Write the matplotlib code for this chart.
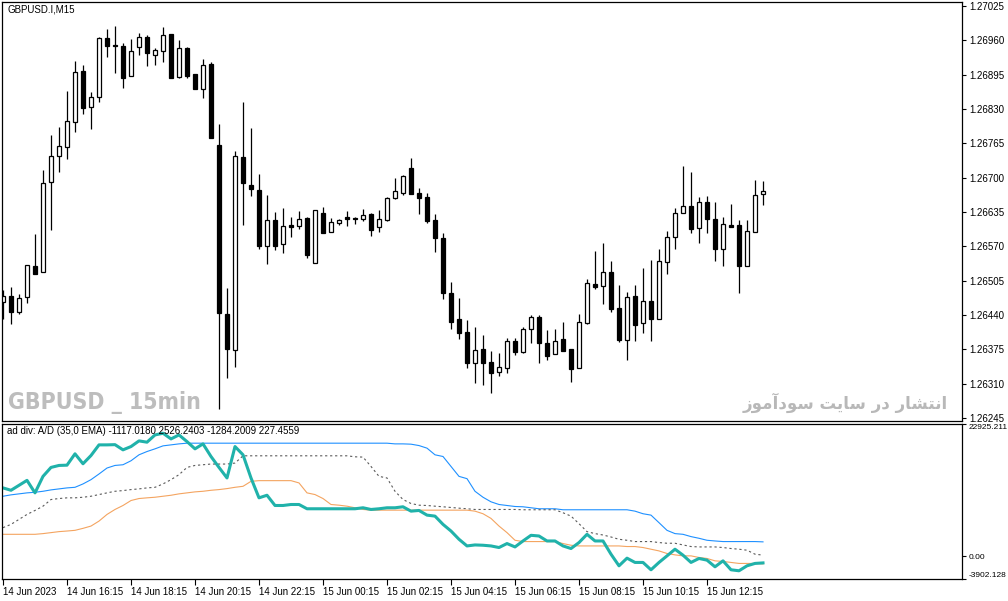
import matplotlib
matplotlib.use("Agg")
import matplotlib.pyplot as plt
from matplotlib import font_manager as fm
import numpy as np

plt.rcParams['font.family'] = ['Liberation Sans', 'DejaVu Sans']

# GBPUSD M15, 14 Jun 2023 14:15 .. 15 Jun 2023 14:00
opens = [1.26465, 1.26476, 1.26446, 1.26474, 1.26533, 1.26521, 1.26692, 1.26741, 1.26758, 1.26805,
         1.26902, 1.26834, 1.26853, 1.26964, 1.26951, 1.26949, 1.26893, 1.26947, 1.26966, 1.26932,
         1.26940, 1.26972, 1.26891, 1.26946, 1.26896, 1.26868, 1.26915, 1.26762, 1.26442, 1.26374,
         1.26739, 1.26686, 1.26677, 1.26571, 1.26620, 1.26575, 1.26610, 1.26609, 1.26624, 1.26539,
         1.26633, 1.26597, 1.26614, 1.26626, 1.26624, 1.26622, 1.26631, 1.26607, 1.26620, 1.26662,
         1.26671, 1.26718, 1.26671, 1.26663, 1.26620, 1.26586, 1.26482, 1.26433, 1.26408, 1.26349,
         1.26376, 1.26351, 1.26332, 1.26340, 1.26391, 1.26370, 1.26414, 1.26436, 1.26387, 1.26366,
         1.26395, 1.26376, 1.26340, 1.26425, 1.26499, 1.26495, 1.26521, 1.26453, 1.26393, 1.26476,
         1.26425, 1.26467, 1.26433, 1.26540, 1.26588, 1.26633, 1.26646, 1.26605, 1.26654, 1.26622,
         1.26565, 1.26610, 1.26610, 1.26533, 1.26597, 1.26669]
highs = [1.26487, 1.26493, 1.26480, 1.26535, 1.26593, 1.26715, 1.26781, 1.26796, 1.26864, 1.26921,
         1.26913, 1.26862, 1.26966, 1.26982, 1.26987, 1.26955, 1.26963, 1.26974, 1.26970, 1.26946,
         1.26985, 1.26972, 1.26961, 1.26947, 1.26896, 1.26925, 1.26919, 1.26802, 1.26491, 1.26751,
         1.26843, 1.26794, 1.26707, 1.26667, 1.26635, 1.26643, 1.26626, 1.26637, 1.26626, 1.26639,
         1.26645, 1.26624, 1.26622, 1.26637, 1.26626, 1.26641, 1.26633, 1.26639, 1.26663, 1.26699,
         1.26705, 1.26737, 1.26681, 1.26671, 1.26631, 1.26595, 1.26503, 1.26472, 1.26431, 1.26417,
         1.26402, 1.26372, 1.26368, 1.26397, 1.26397, 1.26417, 1.26440, 1.26440, 1.26412, 1.26414,
         1.26427, 1.26376, 1.26442, 1.26508, 1.26561, 1.26576, 1.26542, 1.26497, 1.26484, 1.26497,
         1.26529, 1.26544, 1.26565, 1.26599, 1.26643, 1.26722, 1.26711, 1.26663, 1.26665, 1.26654,
         1.26626, 1.26650, 1.26620, 1.26620, 1.26696, 1.26694]
lows = [1.26433, 1.26423, 1.26442, 1.26463, 1.26518, 1.26521, 1.26601, 1.26711, 1.26735, 1.26787,
        1.26821, 1.26792, 1.26843, 1.26929, 1.26898, 1.26870, 1.26893, 1.26932, 1.26911, 1.26913,
        1.26919, 1.26889, 1.26889, 1.26889, 1.26868, 1.26851, 1.26775, 1.26262, 1.26321, 1.26342,
        1.26610, 1.26665, 1.26565, 1.26537, 1.26563, 1.26557, 1.26588, 1.26603, 1.26548, 1.26539,
        1.26595, 1.26597, 1.26610, 1.26609, 1.26612, 1.26618, 1.26590, 1.26597, 1.26618, 1.26660,
        1.26667, 1.26669, 1.26631, 1.26614, 1.26559, 1.26470, 1.26414, 1.26395, 1.26340, 1.26311,
        1.26308, 1.26292, 1.26325, 1.26330, 1.26364, 1.26368, 1.26387, 1.26349, 1.26355, 1.26366,
        1.26372, 1.26313, 1.26340, 1.26423, 1.26489, 1.26461, 1.26446, 1.26389, 1.26355, 1.26391,
        1.26406, 1.26391, 1.26433, 1.26518, 1.26565, 1.26633, 1.26595, 1.26576, 1.26595, 1.26542,
        1.26533, 1.26607, 1.26482, 1.26533, 1.26597, 1.26648]
closes = [1.26476, 1.26446, 1.26472, 1.26535, 1.26518, 1.26690, 1.26741, 1.26760, 1.26807, 1.26900,
          1.26832, 1.26853, 1.26964, 1.26949, 1.26949, 1.26889, 1.26940, 1.26966, 1.26936, 1.26942,
          1.26970, 1.26889, 1.26946, 1.26893, 1.26868, 1.26913, 1.26775, 1.26444, 1.26376, 1.26741,
          1.26690, 1.26679, 1.26571, 1.26620, 1.26571, 1.26609, 1.26607, 1.26622, 1.26554, 1.26639,
          1.26595, 1.26616, 1.26620, 1.26622, 1.26622, 1.26629, 1.26601, 1.26622, 1.26662, 1.26675,
          1.26703, 1.26669, 1.26662, 1.26618, 1.26586, 1.26482, 1.26427, 1.26406, 1.26349, 1.26374,
          1.26349, 1.26330, 1.26342, 1.26391, 1.26370, 1.26414, 1.26436, 1.26387, 1.26362, 1.26391,
          1.26372, 1.26338, 1.26427, 1.26501, 1.26493, 1.26521, 1.26451, 1.26393, 1.26474, 1.26421,
          1.26467, 1.26433, 1.26542, 1.26588, 1.26633, 1.26646, 1.26603, 1.26654, 1.26622, 1.26565,
          1.26612, 1.26607, 1.26533, 1.26599, 1.26667, 1.26675]

# ad div indicator lines
ad_line = [11865, 11453, 12313, 13173, 11005, 13861, 15409, 15753, 15800, 17765,
           16045, 17473, 19313, 19313, 19350, 18453, 19021, 20001, 19777, 21033,
           21325, 20345, 21033, 19881, 18625, 19485, 17301, 15409, 13585, 19021,
           17593, 13585, 10145, 10593, 8821, 8821, 8993, 8993, 8253, 8253,
           8253, 8253, 8253, 8253, 8253, 8425, 8133, 8253, 8425, 8425,
           8597, 7841, 7961, 7153, 6981, 5553, 4401, 2973, 1821, 1993,
           1941, 1821, 1545, 2233, 1649, 2681, 3661, 3541, 2681, 2681,
           1821, 1373, 2405, 3833, 2681, 2681, 393, -1619, -295, -1035,
           -1035, -2307, -1035, 101, 1253, 221, -1035, -347, -639, -1791,
           -759, -2307, -2479, -1619, -1207, -1117.018]
upper_line = [10421, 10661, 10833, 11005, 11109, 11281, 11521, 11693, 11865, 11969,
              12553, 13293, 14273, 15305, 15753, 15873, 16561, 17593, 18161, 18625,
              19141, 19313, 19485, 19605, 19605, 19605, 19605, 19605, 19605, 19605,
              19605, 19605, 19605, 19605, 19605, 19605, 19605, 19605, 19605, 19605,
              19605, 19605, 19605, 19605, 19605, 19605, 19605, 19605, 19605, 19485,
              19485, 19433, 19193, 18745, 17593, 17301, 15581, 13861, 13465, 11281,
              10249, 9457, 8993, 8821, 8649, 8597, 8425, 8253, 8253, 8253,
              8081, 8081, 8081, 8081, 8081, 8081, 8081, 8081, 8081, 7841,
              7393, 7153, 5845, 4521, 3953, 3833, 3437, 3145, 2801, 2681,
              2577, 2577, 2577, 2577, 2577, 2526.2403]
lower_line = [3833, 3833, 3833, 3833, 3833, 3953, 4125, 4297, 4401, 4521,
              4865, 5261, 6121, 7273, 8133, 8821, 9681, 10025, 10145, 10249,
              10421, 10593, 10833, 11005, 11177, 11281, 11453, 11573, 11745, 11969,
              12141, 13001, 13121, 13121, 13121, 13121, 13121, 12725, 11005, 10713,
              10025, 8993, 8873, 8701, 8425, 8133, 8013, 8013, 8013, 8013,
              8013, 8013, 8013, 8013, 8013, 8013, 8013, 8013, 8013, 7841,
              7393, 6585, 5261, 4125, 2801, 2577, 2577, 2577, 2577, 2577,
              2233, 1941, 1821, 1821, 1821, 1821, 1821, 1821, 1717, 1717,
              1545, 1253, 961, 513, 273, 101, 101, -175, -347, -759,
              -863, -1035, -1207, -1207, -1207, -1284.2009]
mid_line = [4985, 5553, 6413, 7273, 7961, 8701, 9853, 10025, 10145, 10145,
            10249, 10421, 10713, 11005, 11281, 11401, 11573, 11693, 11865, 11969,
            12553, 13293, 14153, 15409, 15753, 15873, 15993, 15993, 15993, 16165,
            17421, 17421, 17421, 17421, 17421, 17421, 17421, 17421, 17421, 17421,
            17421, 17421, 17421, 17421, 17249, 17197, 15581, 13861, 13585, 11281,
            9853, 9165, 8873, 8821, 8701, 8597, 8477, 8357, 8253, 8133,
            8133, 8133, 8133, 8133, 8133, 8081, 8081, 8081, 8081, 8081,
            7565, 6981, 5673, 4297, 3953, 3713, 3369, 2973, 2801, 2577,
            2577, 2577, 2405, 2285, 2285, 1993, 1717, 1649, 1649, 1649,
            1545, 1373, 1253, 1081, 393, 227.4559]

time_labels = ["14 Jun 2023", "14 Jun 16:15", "14 Jun 18:15", "14 Jun 20:15",
               "14 Jun 22:15", "15 Jun 00:15", "15 Jun 02:15", "15 Jun 04:15",
               "15 Jun 06:15", "15 Jun 08:15", "15 Jun 10:15", "15 Jun 12:15"]
price_ticks = [1.26245, 1.26310, 1.26375, 1.26440, 1.26505, 1.26570, 1.26635,
               1.26700, 1.26765, 1.26830, 1.26895, 1.26960, 1.27025]
ind_ticks = [-3902.128, 0.0, 22925.211]
ind_tick_labels = ["-3902.128", "0.00", "22925.211"]

symbol_text = "GBPUSD.I,M15"
ind_text = "ad div: A/D (35,0 EMA) -1117.0180 2526.2403 -1284.2009 227.4559"
mark_text = "GBPUSD _ 15min"
site_text = "انتشار در سایت سودآموز"

# simple Persian shaping (matplotlib has no complex text layout)
FORMS = {
    'ا': ('\uFE8D', '\uFE8E', None, None),
    'آ': ('\uFE81', '\uFE82', None, None),
    'ن': ('\uFEE5', '\uFEE6', '\uFEE7', '\uFEE8'),
    'ت': ('\uFE95', '\uFE96', '\uFE97', '\uFE98'),
    'ش': ('\uFEB5', '\uFEB6', '\uFEB7', '\uFEB8'),
    'ر': ('\uFEAD', '\uFEAE', None, None),
    'د': ('\uFEA9', '\uFEAA', None, None),
    'س': ('\uFEB1', '\uFEB2', '\uFEB3', '\uFEB4'),
    'ی': ('\uFBFC', '\uFBFD', '\uFBFE', '\uFBFF'),
    'و': ('\uFEED', '\uFEEE', None, None),
    'م': ('\uFEE1', '\uFEE2', '\uFEE3', '\uFEE4'),
    'ز': ('\uFEAF', '\uFEB0', None, None),
}


def shape_word(w):
    out = []
    for k, ch in enumerate(w):
        f = FORMS[ch]
        jp = k > 0 and FORMS[w[k - 1]][2] is not None
        jn = k + 1 < len(w) and f[2] is not None
        if jp and jn:
            out.append(f[3])
        elif jp:
            out.append(f[1])
        elif jn:
            out.append(f[2])
        else:
            out.append(f[0])
    return ''.join(reversed(out))


def rtl(s):
    return ' '.join(shape_word(w) for w in reversed(s.split()))


def narrow_bold_font():
    # look for a condensed / narrow bold face for the watermark
    best = None
    for f in fm.fontManager.ttflist:
        nm = f.name.lower()
        cond = ('narrow' in nm or 'condensed' in nm or
                str(f.stretch) in ('condensed', 'semi-condensed', 'extra-condensed', '300', '400'))
        bold = str(f.weight) in ('bold', '700', '800', '900', 'heavy', 'black')
        if cond and bold:
            return fm.FontProperties(fname=f.fname)
        if cond and best is None:
            best = fm.FontProperties(fname=f.fname, weight='bold')
    return best


W, H = 1008, 601
fig = plt.figure(figsize=(W / 100, H / 100), dpi=100)
fig.patch.set_facecolor('white')

ax = fig.add_axes([2 / W, 1 - 421 / H, 960 / W, 419 / H])
ax2 = fig.add_axes([2 / W, 1 - 579 / H, 960 / W, 155 / H])

n = len(opens)
x = np.arange(n)
o = np.array(opens)
c = np.array(closes)
up = c >= o

ax.vlines(x, lows, highs, color='black', lw=0.9, zorder=1)
bottom = np.minimum(o, c)
height = np.abs(c - o)
ax.bar(x[up], height[up], bottom=bottom[up], width=0.5, color='white',
       edgecolor='black', linewidth=0.9, zorder=2)
ax.bar(x[~up], height[~up], bottom=bottom[~up], width=0.5, color='black',
       edgecolor='black', linewidth=0.9, zorder=2)

xlim = (-0.125, 119.875)
ax.set_xlim(*xlim)
ax.set_ylim(1.262394, 1.270326)
ax.set_xticks([])
ax.yaxis.tick_right()
ax.set_yticks(price_ticks)
ax.set_yticklabels(['%.5f' % p for p in price_ticks])
ax.tick_params(axis='y', direction='out', length=3, width=0.8, pad=2, labelsize=7)
for s in ax.spines.values():
    s.set_linewidth(0.9)

# indicator panel
ax2.plot(x, upper_line, color='#1e90ff', lw=0.8)
ax2.plot(x, mid_line, color='#5a5a5a', lw=0.8, ls=(0, (2, 2.5)))
ax2.plot(x, lower_line, color='#f4a460', lw=0.8)
ax2.plot(x, ad_line, color='#20b2aa', lw=2.2)
ax2.set_xlim(*xlim)
ax2.set_ylim(-3902.128, 22925.211)
ax2.yaxis.tick_right()
ax2.set_yticks(ind_ticks)
ax2.set_yticklabels(ind_tick_labels)
ax2.tick_params(axis='y', direction='out', length=3, width=0.8, pad=1.5, labelsize=6)
ylbls = ax2.get_yticklabels()
ylbls[0].set_va('bottom')
ylbls[-1].set_va('top')
ax2.set_xticks(x[::8][:len(time_labels)])
ax2.set_xticklabels(time_labels)
ax2.tick_params(axis='x', direction='out', length=4, width=0.8, pad=2, labelsize=7)
for lbl in ax2.get_xticklabels():
    lbl.set_ha('left')
for s in ax2.spines.values():
    s.set_linewidth(0.9)

fig.text(7 / W, 1 - 10 / H, symbol_text, fontsize=7, va='center', ha='left')
fig.text(7 / W, 1 - 431 / H, ind_text, fontsize=7, va='center', ha='left')

fp = narrow_bold_font()
if fp is not None:
    fp.set_size(16.5)
    fig.text(8 / W, 1 - 402 / H, mark_text, fontproperties=fp, va='center', ha='left',
             color='#bdbdbd')
else:
    fig.text(8 / W, 1 - 402 / H, mark_text, fontsize=16, fontweight='bold', va='center',
             ha='left', color='#bdbdbd')
fig.text(948 / W, 1 - 403 / H, rtl(site_text), fontsize=12, fontweight='bold', va='center',
         ha='right', color='#b8b8b8', family=['DejaVu Sans'])

fig.savefig('out.png', dpi=100)
